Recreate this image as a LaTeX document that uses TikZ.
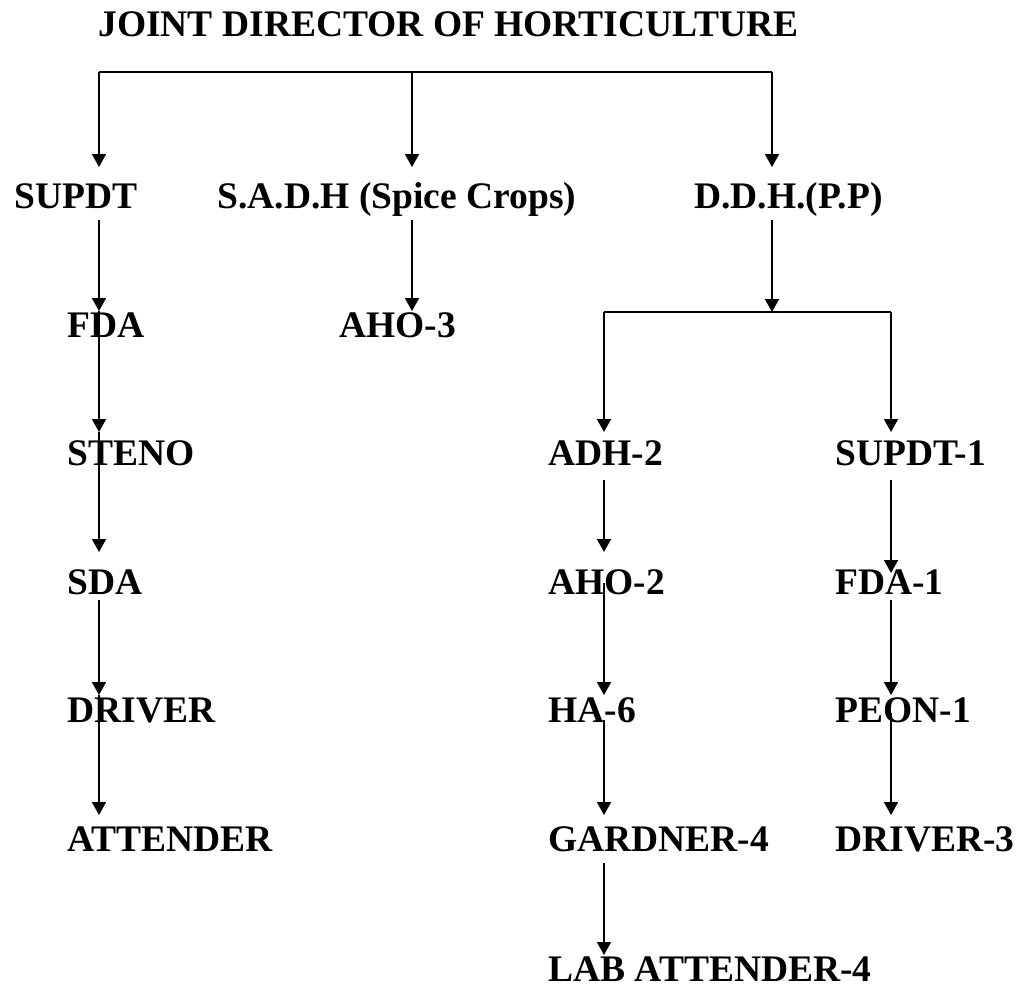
\documentclass[tikz,border=0pt]{standalone}
\usepackage{fontspec}
\setmainfont{Liberation Serif}
\usetikzlibrary{arrows.meta,calc}
\tikzset{
  post/.style = {anchor=base west, inner sep=0pt, font=\fontsize{18.75}{22}\selectfont\bfseries},
  flow/.style = {-{Triangle[length=6.5pt, width=7pt]}, line width=0.85pt},
  link/.style = {line width=0.85pt},
}

\begin{document}
\begin{tikzpicture}[x=0.5pt, y=0.5pt]
  \useasboundingbox (0,0) rectangle (1018,-985);

  %% ---- the posts -------------------------------------------------------------
  \node[post] (jdh) at (98,-36) {JOINT DIRECTOR OF HORTICULTURE};
  \foreach \n/\x/\y/\t in {supdt/14/208/{SUPDT}, sadh/217/208/{S.A.D.H (Spice Crops)}, ddh/694/208/{D.D.H.(P.P)},
                           fda/67/337/{FDA}, aho3/339/337/{AHO-3},
                           steno/67/465/{STENO}, sda/67/594/{SDA}, driver/67/722/{DRIVER}, attender/67/851/{ATTENDER},
                           adh/548/465/{ADH-2}, aho2/548/594/{AHO-2}, ha/548/722/{HA-6},
                           gardner/548/851/{GARDNER-4}, lab/548/981/{LAB ATTENDER-4},
                           supdt1/835/465/{SUPDT-1}, fda1/835/594/{FDA-1}, peon/835/722/{PEON-1}, driver3/835/851/{DRIVER-3}} {
    \node[post] (\n) at (\x,-\y) {\t};
  }

  % the columns the connectors run down, and the two bus lines
  \coordinate (colA) at (99,0);
  \coordinate (colB) at (412,0);
  \coordinate (colC) at (772,0);
  \coordinate (colD) at (604,0);
  \coordinate (colE) at (891,0);
  \coordinate (bus) at (0,-72);
  \coordinate (split) at (772,-312);

  %% ---- top level ---------------------------------------------------------------
  \draw[link] (colA |- bus) -- (colC |- bus);
  \foreach \n/\c in {supdt/colA, sadh/colB, ddh/colC}
    \draw[flow] (\c |- bus) -- ($(\n.base -| \c)+(0,41)$);

  %% ---- D.D.H. splits in two ----------------------------------------------------
  \draw[flow] ($(ddh.base -| colC)+(0,-12)$) -- (split);
  \draw[link] (colD |- split) -- (colE |- split);
  \foreach \n/\c in {adh/colD, supdt1/colE}
    \draw[flow] (\c |- split) -- ($(\n.base -| \c)+(0,33)$);

  %% ---- the chains below ----------------------------------------------------------
  \foreach \a/\b/\c/\s/\e in {supdt/fda/colA/-12/26, fda/steno/colA/26/33, steno/sda/colA/33/42,
                              sda/driver/colA/-6/27, driver/attender/colA/27/36,
                              sadh/aho3/colB/-12/26,
                              adh/aho2/colD/-15/42, aho2/ha/colD/11/27, ha/gardner/colD/2/36, gardner/lab/colD/-12/26,
                              supdt1/fda1/colE/-15/21, fda1/peon/colE/-6/27, peon/driver3/colE/9/36}
    \draw[flow] ($(\a.base -| \c)+(0,\s)$) -- ($(\b.base -| \c)+(0,\e)$);
\end{tikzpicture}
\end{document}
